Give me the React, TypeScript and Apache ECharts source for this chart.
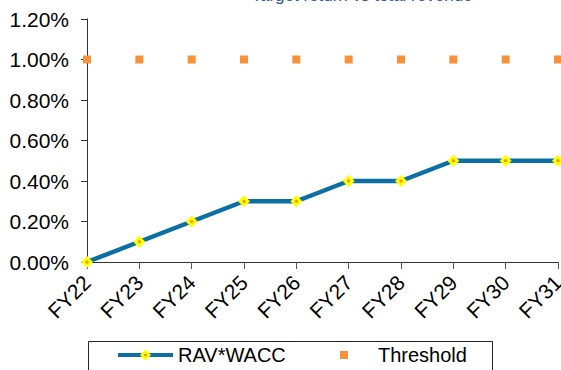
import React, { useEffect, useRef } from "react";
import * as echarts from "echarts";

// Financial years on the category axis
const years = ["FY22", "FY23", "FY24", "FY25", "FY26", "FY27", "FY28", "FY29", "FY30", "FY31"];
// RAV*WACC, in percent
const ravWacc = [0.0, 0.1, 0.2, 0.3, 0.3, 0.4, 0.4, 0.5, 0.5, 0.5];
// Threshold, in percent
const threshold = [1.0, 1.0, 1.0, 1.0, 1.0, 1.0, 1.0, 1.0, 1.0, 1.0];

const FONT = "'Liberation Sans', Arial, sans-serif";
const LINE_BLUE = "#0B6FA4";
const ORANGE = "#F7923A";

// Yellow diamond with an orange centre
const markerFill = {
  type: "radial",
  x: 0.5,
  y: 0.5,
  r: 0.5,
  colorStops: [
    { offset: 0, color: "#F39A1E" },
    { offset: 0.22, color: "#F39A1E" },
    { offset: 0.32, color: "#FFFF00" },
    { offset: 1, color: "#FFFF00" },
  ],
};

const legendText = { fontSize: 20, color: "#000000", fontFamily: FONT };

export default function App() {
  const ref = useRef<HTMLDivElement>(null);

  useEffect(() => {
    if (!ref.current) return;
    const chart = echarts.init(ref.current, null, { renderer: "svg", width: 561, height: 370 });
    chart.setOption({
      animation: false,
      backgroundColor: "#ffffff",
      textStyle: { fontFamily: FONT },
      graphic: [
        {
          type: "text",
          x: 362,
          y: 3.8,
          style: {
            text: "Target return vs total revenue",
            font: `17px ${FONT}`,
            fill: "#2A55B0",
            align: "center",
            verticalAlign: "bottom",
          },
        },
        // frame round the legend entries
        {
          type: "rect",
          shape: { x: 88.5, y: 341.5, width: 404, height: 40 },
          style: { fill: "none", stroke: "#222222", lineWidth: 1 },
          z: 0,
        },
      ],
      grid: {
        left: 87,
        right: 3,
        top: 19,
        bottom: 108,
        containLabel: false,
        outerBoundsMode: "none",
      },
      legend: [
        {
          left: 116,
          top: 345,
          padding: 0,
          itemWidth: 55,
          itemHeight: 14,
          textStyle: legendText,
          data: [{ name: "RAV*WACC", lineStyle: { width: 4, color: LINE_BLUE } }],
        },
        {
          left: 340,
          top: 345,
          padding: 0,
          itemWidth: 8,
          itemHeight: 8,
          textStyle: { ...legendText, padding: [0, 0, 0, 25] },
          data: [{ name: "Threshold", icon: "rect", itemStyle: { color: ORANGE, opacity: 1 } }],
        },
      ],
      xAxis: {
        type: "category",
        data: years,
        boundaryGap: false,
        axisLine: { lineStyle: { color: "#333333", width: 1 } },
        axisTick: { show: true, length: 7, alignWithLabel: true, lineStyle: { color: "#555555" } },
        axisLabel: {
          rotate: 45,
          margin: 17,
          fontSize: 21,
          color: "#000000",
          fontFamily: FONT,
          interval: 0,
        },
        splitLine: { show: false },
      },
      yAxis: {
        type: "value",
        min: 0,
        max: 1.2,
        interval: 0.2,
        axisLine: { show: true, lineStyle: { color: "#333333", width: 1 } },
        axisTick: { show: true, length: 6, lineStyle: { color: "#333333" } },
        axisLabel: {
          margin: 18,
          fontSize: 21,
          color: "#000000",
          fontFamily: FONT,
          formatter: (v: number) => `${v.toFixed(2)}%`,
        },
        splitLine: { show: false },
      },
      series: [
        {
          name: "RAV*WACC",
          type: "line",
          data: ravWacc,
          symbol: "diamond",
          symbolSize: 12,
          lineStyle: { color: LINE_BLUE, width: 4.5 },
          itemStyle: { color: markerFill, borderWidth: 0 },
          z: 3,
        },
        {
          name: "Threshold",
          type: "scatter",
          data: threshold,
          symbol: "rect",
          symbolSize: 8,
          itemStyle: { color: ORANGE, opacity: 1 },
          z: 2,
        },
      ],
    });
    return () => chart.dispose();
  }, []);

  return (
    <div
      ref={ref}
      style={{ position: "absolute", left: 0, top: 0, width: 561, height: 370 }}
    />
  );
}
